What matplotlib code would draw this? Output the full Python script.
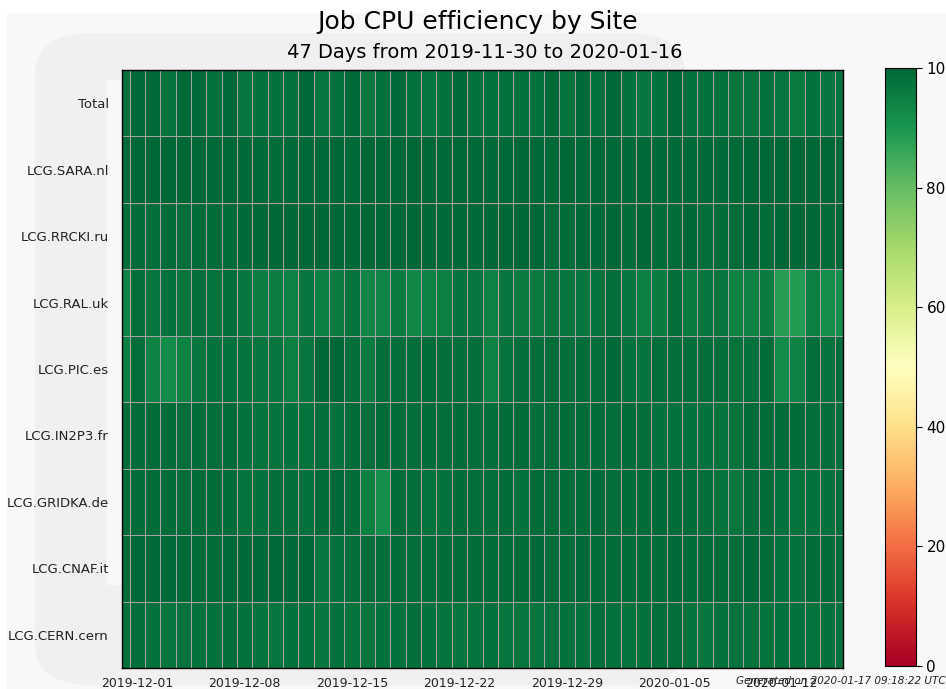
import numpy as np
import pandas as pd
import matplotlib
matplotlib.use("Agg")
import matplotlib.pyplot as plt
import matplotlib.dates as mdates
from matplotlib.patches import FancyBboxPatch, Rectangle

# one column per day, cell centred on the date
start_date = "2019-11-30"
n_days = 48
sites = ["Total", "LCG.SARA.nl", "LCG.RRCKI.ru", "LCG.RAL.uk", "LCG.PIC.es",
         "LCG.IN2P3.fr", "LCG.GRIDKA.de", "LCG.CNAF.it", "LCG.CERN.cern"]

total = [98, 99.5, 99.5, 97.5, 99.5, 99.5, 98, 99.5, 97, 98, 98, 98, 99.5, 96.5, 98, 99.5, 96.5, 98, 99.5, 98, 97, 98, 99.5, 98, 98,
         98, 98, 98, 99.5, 97.5, 99.5, 98, 99.5, 98, 97, 98, 99.5, 98, 98, 98, 97, 97, 98, 96.5, 96, 98, 97, 98]
sara = [99.5, 100, 100, 100, 100, 100, 99.5, 100, 99.5, 99.5, 99, 99.5, 99.5, 99.5, 100, 99.5, 100, 100, 100, 100, 100, 99.5, 100, 99.5, 99.5,
        99.5, 100, 99.5, 99.5, 100, 99.5, 100, 99.5, 99.5, 99.5, 99.5, 99.5, 99.5, 99.5, 99.5, 99.5, 100, 100, 100, 100, 100, 100, 99.5]
rrcki = [98.5, 99, 98.5, 99, 98.5, 99, 99, 99, 99.5, 100, 100, 100, 100, 100, 100, 100, 100, 100, 100, 100, 100, 99.5, 100, 99.5, 100,
         100, 100, 100, 99, 99, 100, 99.5, 100, 99, 100, 99, 99, 100, 98.5, 99, 99, 100, 99, 100, 100, 100, 99, 100]
ral = [94, 98.5, 97, 98, 97, 98.5, 97.5, 98.5, 96.5, 95.5, 95.5, 94.5, 96.5, 95, 96, 97.5, 94, 94, 96, 93.5, 94.5, 95, 97.5, 96.5, 94.5,
       96.5, 96, 96, 97, 97, 96.5, 97.5, 98.5, 96.5, 95, 96, 98.5, 96, 96.5, 97, 94.5, 94.5, 96, 88.5, 89, 95, 92, 91.5]
pic = [95, 98.5, 94.5, 92.5, 94.5, 96.5, 98, 98, 97.5, 97, 97, 95, 97, 100, 100, 98.5, 96, 98.5, 98.5, 98.5, 99, 98.5, 98.5, 98.5, 94.5,
       97.5, 98.5, 98.5, 99, 98.5, 99, 98.5, 99.5, 98, 97.5, 98.5, 98.5, 98.5, 98.5, 98.5, 97.5, 98, 99, 92.5, 94.5, 98.5, 97.5, 98.5]
in2p3 = [99, 99, 99, 99, 98.5, 99, 98.5, 99, 98, 97.5, 97.5, 98, 97.5, 98.5, 98, 99, 98.5, 99, 99, 98.5, 99, 98.5, 99, 98.5, 98.5,
         99, 99, 98.5, 99, 99, 99, 99, 98.5, 99, 98.5, 98, 98, 98, 98, 97.5, 97.5, 99, 99, 99, 99, 98.5, 98.5, 98.5]
gridka = [99, 99, 99, 99, 99, 99, 99, 99, 97.5, 98, 98.5, 98.5, 98, 99, 99.5, 99, 95, 92, 99, 98.5, 97.5, 98, 99, 98.5, 98.5,
          99, 98, 99, 99, 99, 99, 99.5, 98.5, 99, 99, 99.5, 99, 99, 98.5, 97.5, 96.5, 98.5, 99, 98, 97.5, 98, 98, 98.5]
cnaf = [99, 99.5, 99.5, 99.5, 99.5, 99, 99, 99.5, 99.5, 99.5, 99.5, 99.5, 100, 96.5, 98, 98.5, 99, 98.5, 99, 98.5, 98.5, 99, 99, 99, 99,
        99, 99, 99.5, 99, 99, 99.5, 99, 99, 99, 99, 99, 99.5, 99, 99, 99, 99, 99.5, 99, 98, 98, 99, 99, 99.5]
cern = [98, 98.5, 98, 97, 98, 98, 98, 98.5, 98, 97.5, 97, 98, 98, 96.5, 98, 97.5, 97, 98, 98, 98.5, 98, 97.5, 97, 97.5, 98,
        97, 97, 97, 98, 98, 98, 98.5, 98, 97.5, 98, 98.5, 98.5, 97.5, 96.5, 98, 98, 97.5, 97.5, 98, 98, 97.5, 98, 98]

tick_dates = ["2019-12-01", "2019-12-08", "2019-12-15", "2019-12-22",
              "2019-12-29", "2020-01-05", "2020-01-12"]

values = np.array([total, sara, rrcki, ral, pic, in2p3, gridka, cnaf, cern])
dates = pd.date_range(start_date, periods=n_days, freq="D")
centers = mdates.date2num(dates)
x_edges = np.append(centers - 0.5, centers[-1] + 0.5)
y_edges = np.arange(len(sites) + 1)

fig = plt.figure(figsize=(9.46, 6.89), dpi=100, facecolor="white")

# faint watermark in the background
fig.patches.append(Rectangle((7 / 946, 0), 1, 1 - 13 / 689, transform=fig.transFigure,
                             facecolor="#f8f8f8", edgecolor="none", zorder=-3))
fig.patches.append(FancyBboxPatch((35 / 946, 4 / 689), 650 / 946, 652 / 689,
                                  boxstyle="round,pad=0,rounding_size=0.06",
                                  transform=fig.transFigure, facecolor="#f0f0f0",
                                  edgecolor="none", zorder=-2))
fig.patches.append(Rectangle((107 / 946, 104 / 689), 560 / 946, 505 / 689, transform=fig.transFigure,
                             facecolor="#f8f8f8", edgecolor="none", zorder=-1))

ax = fig.add_axes([122 / 946, 21 / 689, 721 / 946, 598 / 689])
mesh = ax.pcolormesh(x_edges, y_edges, values, cmap="RdYlGn", vmin=0, vmax=100,
                     edgecolors="#a3a3a3", linewidth=0.45)
ax.set_xlim(centers[0], centers[-1])
ax.set_ylim(len(sites), 0)
ax.set_yticks(np.arange(len(sites)) + 0.5)
ax.set_yticklabels(sites, fontsize=9.5, color="#222222")
ax.set_xticks(mdates.date2num(pd.to_datetime(tick_dates)))
ax.set_xticklabels(tick_dates, fontsize=9, color="#222222")
ax.tick_params(axis="both", length=0)
ax.tick_params(axis="x", pad=6.5)
ax.tick_params(axis="y", pad=9.5)
for sp in ax.spines.values():
    sp.set_linewidth(1.0)

cax = fig.add_axes([885 / 946, 23 / 689, 31 / 946, 598 / 689])
cb = fig.colorbar(mesh, cax=cax, ticks=[0, 20, 40, 60, 80, 100])
cb.ax.tick_params(labelsize=11, length=4)
cb.outline.set_linewidth(0.8)

fig.text(478 / 946, 1 - 22 / 689, "Job CPU efficiency by Site", ha="center", va="center", fontsize=18)
fig.text(485 / 946, 1 - 52 / 689, "47 Days from 2019-11-30 to 2020-01-16", ha="center", va="center", fontsize=14)
fig.text(736 / 946, 1 - 681 / 689, "Generated on 2020-01-17 09:18:22 UTC", ha="left", va="center",
         fontsize=7.5, style="italic", color="#222222")

fig.savefig("out.png", dpi=100, facecolor=fig.get_facecolor())
